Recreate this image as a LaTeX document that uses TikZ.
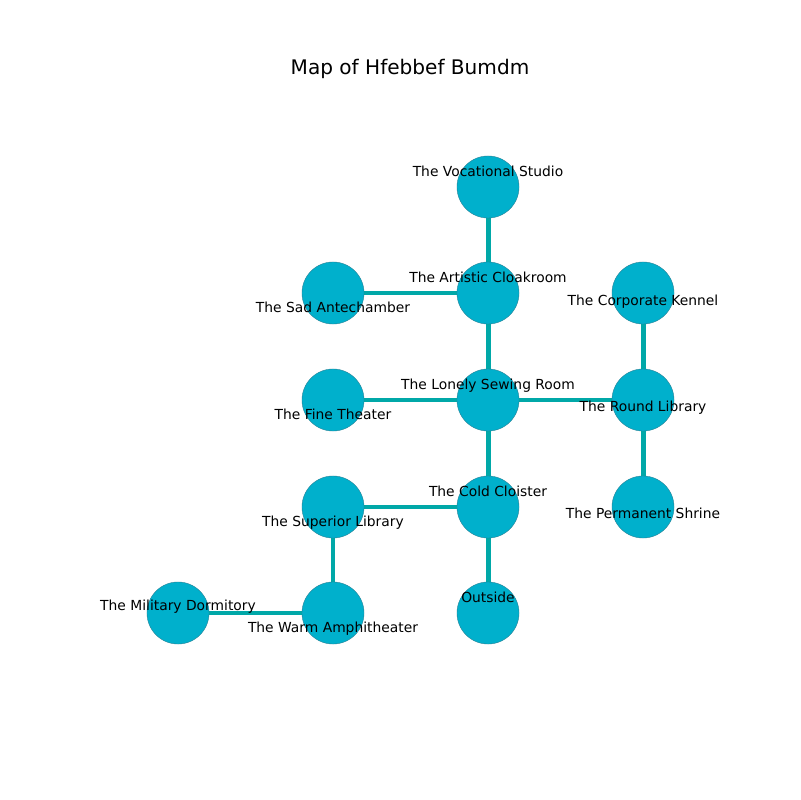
\documentclass[tikz,border=0pt]{standalone}
\usepackage{fontspec}
\setmainfont{DejaVu Sans}
\definecolor{nodefill}{RGB}{0,176,204}
\definecolor{nodeedge}{RGB}{40,130,150}
\definecolor{edgecol}{RGB}{0,168,168}
\begin{document}
\begin{tikzpicture}[x=0.01in,y=-0.01in,
  room/.style={circle,fill=nodefill,draw=nodeedge,line width=0.3pt,minimum size=0.62in,inner sep=0pt},
  lbl/.style={font=\fontsize{10}{12}\selectfont,inner sep=0pt,anchor=center,text height=7.4pt,text depth=2.3pt},
  conn/.style={edgecol,line width=3.6pt}]
\useasboundingbox (0,0) rectangle (800,800);
\fill[white] (0,0) rectangle (800,800);
\node[font=\fontsize{14.5}{17}\selectfont] (title) at (410,69) {Map of Hfebbef Bumdm};
% node positions
\coordinate (pVS) at (488,187);
\coordinate (pAC) at (488,293);
\coordinate (pSA) at (333,293);
\coordinate (pCK) at (643,293);
\coordinate (pLS) at (488,400);
\coordinate (pFT) at (333,400);
\coordinate (pRL) at (643,400);
\coordinate (pCC) at (488,507);
\coordinate (pSL) at (333,507);
\coordinate (pPS) at (643,507);
\coordinate (pMD) at (178,613);
\coordinate (pWA) at (333,613);
\coordinate (pOU) at (488,613);
% edges
\draw[conn] (pVS) -- (pAC);
\draw[conn] (pSA) -- (pAC);
\draw[conn] (pAC) -- (pLS);
\draw[conn] (pFT) -- (pLS);
\draw[conn] (pLS) -- (pRL);
\draw[conn] (pCK) -- (pRL);
\draw[conn] (pRL) -- (pPS);
\draw[conn] (pLS) -- (pCC);
\draw[conn] (pSL) -- (pCC);
\draw[conn] (pCC) -- (pOU);
\draw[conn] (pSL) -- (pWA);
\draw[conn] (pMD) -- (pWA);
% circles
\foreach \n in {VS,AC,SA,CK,LS,FT,RL,CC,SL,PS,MD,WA,OU}{\node[room] (\n) at (p\n) {};}
% labels
\node[lbl] (lVS) at (488,172.5) {The Vocational Studio};
\node[lbl] (lAC) at (488,279) {The Artistic Cloakroom};
\node[lbl] (lSA) at (333,309) {The Sad Antechamber};
\node[lbl] (lCK) at (643,302) {The Corporate Kennel};
\node[lbl] (lLS) at (488,386) {The Lonely Sewing Room};
\node[lbl] (lFT) at (333,416) {The Fine Theater};
\node[lbl] (lRL) at (643,408) {The Round Library};
\node[lbl] (lCC) at (488,493) {The Cold Cloister};
\node[lbl] (lSL) at (333,523) {The Superior Library};
\node[lbl] (lPS) at (643,515) {The Permanent Shrine};
\node[lbl] (lMD) at (178,607) {The Military Dormitory};
\node[lbl] (lWA) at (333,629) {The Warm Amphitheater};
\node[lbl] (lOU) at (488,599) {Outside};
\end{tikzpicture}
\end{document}
